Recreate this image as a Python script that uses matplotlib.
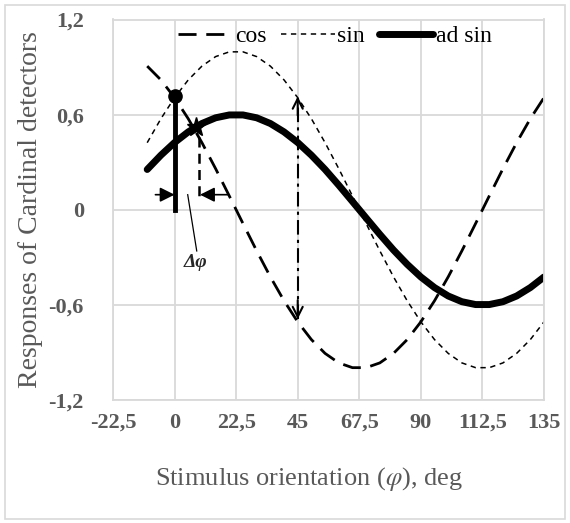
import matplotlib
matplotlib.use("Agg")
import matplotlib.pyplot as plt
from matplotlib.patches import Rectangle

# values (stimulus orientation, deg)
phi = [-10, -5, 0, 5, 10, 15, 20, 25, 30, 35, 40, 45, 50, 55, 60,
       65, 70, 75, 80, 85, 90, 95, 100, 105, 110, 115, 120, 125, 130, 135]
cos_resp = [0.906, 0.819, 0.707, 0.574, 0.423, 0.259, 0.087, -0.087, -0.259, -0.423,
            -0.574, -0.707, -0.819, -0.906, -0.966, -0.996, -0.996, -0.966, -0.906, -0.819,
            -0.707, -0.574, -0.423, -0.259, -0.087, 0.087, 0.259, 0.423, 0.574, 0.707]
sin_resp = [0.423, 0.574, 0.707, 0.819, 0.906, 0.966, 0.996, 0.996, 0.966, 0.906,
            0.819, 0.707, 0.574, 0.423, 0.259, 0.087, -0.087, -0.259, -0.423, -0.574,
            -0.707, -0.819, -0.906, -0.966, -0.996, -0.996, -0.966, -0.906, -0.819, -0.707]
adsin_resp = [0.254, 0.344, 0.424, 0.491, 0.544, 0.580, 0.598, 0.598, 0.580, 0.544,
              0.491, 0.424, 0.344, 0.254, 0.155, 0.052, -0.052, -0.155, -0.254, -0.344,
              -0.424, -0.491, -0.544, -0.580, -0.598, -0.598, -0.580, -0.544, -0.491, -0.424]

x_ticks = [-22.5, 0, 22.5, 45, 67.5, 90, 112.5, 135]
x_labels = ["-22,5", "0", "22,5", "45", "67,5", "90", "112,5", "135"]
y_ticks = [-1.2, -0.6, 0, 0.6, 1.2]
y_labels = ["-1,2", "-0,6", "0", "0,6", "1,2"]

# annotation points
peak_pt = (0, 0.72)       # cos response at 0 deg
cross_pt = (8, 0.52)      # cos / ad sin crossing
arrow_y = 0.095
dphi_left = (-7, 0)
dphi_right = (19.5, 9.3)
vert_x, vert_lo, vert_hi = 45, -0.69, 0.715

plt.rcParams['font.family'] = ['Liberation Serif', 'DejaVu Serif']
plt.rcParams['mathtext.fontset'] = 'stix'
grey = '#595959'
gridc = '#d9d9d9'

fig = plt.figure(figsize=(5.7, 5.23), dpi=100)
fig.patches.append(Rectangle((5 / 570, 4 / 523), 560 / 570, 514 / 523,
                             transform=fig.transFigure, fill=False,
                             edgecolor=gridc, lw=1.2))
ax = fig.add_axes([113 / 570, 1 - 400 / 523, 431 / 570, 380.5 / 523])

ax.plot(phi, cos_resp, color='black', lw=2, dashes=(6.5, 3.5), label='cos')
ax.plot(phi, sin_resp, color='black', lw=1.1, dashes=(3.5, 3), label='sin')
ax.plot(phi, adsin_resp, color='black', lw=5, solid_capstyle='round', label='ad sin')

# delta phi construction
ax.plot([peak_pt[0], peak_pt[0]], [0, peak_pt[1]], color='black', lw=3.5)
ax.plot(*peak_pt, 'o', color='black', ms=9.5)
ax.plot(*cross_pt, '*', color='black', ms=14)
ax.plot([cross_pt[0] + 1, cross_pt[0] + 1], [cross_pt[1] - 0.06, arrow_y - 0.04],
        color='black', lw=1.8, dashes=(4, 2.5))
for x0, x1 in (dphi_left, dphi_right):
    ax.annotate('', xy=(x1, arrow_y), xytext=(x0, arrow_y),
                arrowprops=dict(arrowstyle='-|>', color='black', lw=1.2,
                                mutation_scale=22, shrinkA=0, shrinkB=0))
ax.plot([4.8, 8.1], [arrow_y, -0.26], color='black', lw=0.9)
ax.text(7.5, -0.33, 'Δφ', fontsize=14, ha='center', va='center',
        color='#262626', style='italic', weight='bold')

# vertical dash-dot arrow at 45 deg
ax.plot([vert_x, vert_x], [vert_lo, vert_hi], color='black', lw=1.5,
        dashes=(7, 2.5, 1.5, 2.5))
for yt, yf in ((vert_hi, vert_hi - 0.12), (vert_lo, vert_lo + 0.12)):
    ax.annotate('', xy=(vert_x, yt), xytext=(vert_x, yf),
                arrowprops=dict(arrowstyle='->', color='black', lw=1.5,
                                mutation_scale=18, shrinkA=0, shrinkB=0))

ax.set_xlim(-22.5, 135)
ax.set_ylim(-1.2, 1.2)
ax.set_xticks(x_ticks)
ax.set_xticklabels(x_labels)
ax.set_yticks(y_ticks)
ax.set_yticklabels(y_labels)
ax.tick_params(length=0, labelsize=16, labelcolor=grey)
ax.tick_params(axis='x', pad=9)
ax.tick_params(axis='y', pad=21)
for lbl in ax.get_xticklabels() + ax.get_yticklabels():
    lbl.set_fontweight('bold')
ax.grid(True, color=gridc, lw=1.3)
ax.set_axisbelow(True)
for sp in ax.spines.values():
    sp.set_color(gridc)
    sp.set_linewidth(1.3)

ax.set_xlabel('Stimulus orientation ($\\varphi$), deg', fontsize=19, color=grey)
ax.xaxis.set_label_coords(0.455, -0.17)
ax.set_ylabel('Responses of Cardinal detectors', fontsize=20, color=grey, labelpad=4)

ax.legend(loc='upper center', bbox_to_anchor=(0.515, 1.04), ncol=3, frameon=False,
          fontsize=17, handlelength=2.3, handletextpad=0.1, columnspacing=0.6)

fig.savefig('out.png', dpi=100)
